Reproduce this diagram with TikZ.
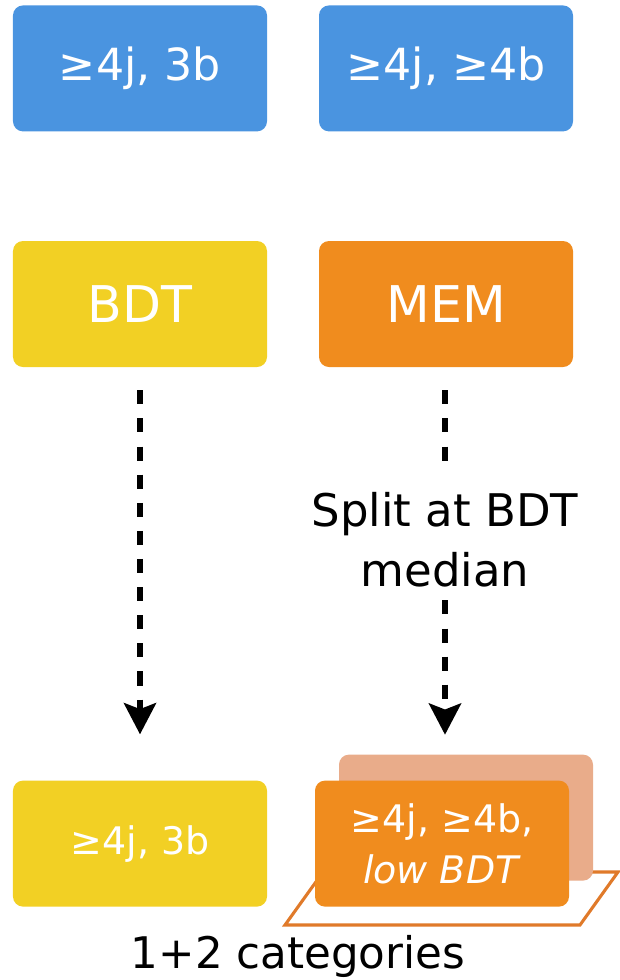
\documentclass[tikz,border=0pt]{standalone}
\usepackage{fontspec}
\setmainfont{DejaVu Sans}
\usetikzlibrary{positioning, arrows.meta}
\definecolor{CatBlue}{HTML}{4A94E0}
\definecolor{CatYellow}{HTML}{F2D024}
\definecolor{CatOrange}{HTML}{F08C1E}
\definecolor{CatSalmon}{HTML}{E9AC8A}
\definecolor{CatEdge}{HTML}{E07A2A}
\tikzset{
  catbox/.style={rounded corners=0.25cm, minimum width=6.35cm, minimum height=3.15cm, align=center, text=white, inner sep=0pt},
  dashline/.style={line width=4pt, dash pattern=on 10pt off 10pt},
  flow/.style={dashline, -{Stealth[length=0.78cm, width=0.8cm, inset=0.15cm]}},
}

\begin{document}
\begin{tikzpicture}
            \useasboundingbox (0,0) rectangle (15.5,-24.5);
            % Input categories
            \node[catbox, fill=CatBlue, font=\fontsize{31.5}{37}\selectfont] (threeb) at (3.5,-1.71) {≥4j, 3b};
            \node[catbox, fill=CatBlue, font=\fontsize{31.5}{37}\selectfont] (fourb) at (11.15,-1.71) {≥4j, ≥4b};
            
            % Discriminants
            \node[catbox, fill=CatYellow, font=\fontsize{36}{43}\selectfont] (bdt) at (3.5,-7.6) {BDT};
            \node[catbox, fill=CatOrange, font=\fontsize{36}{43}\selectfont] (mem) at (11.15,-7.6) {MEM};
            
            % Output categories
            \draw[CatEdge, line width=2.2pt, fill=white] (7.125,-23.125) -- (14.5,-23.125) -- (15.45,-21.8) -- (8.075,-21.8) -- cycle;
            \node[catbox, fill=CatSalmon] (memhigh) at (11.65,-20.44) {};
            \node[catbox, fill=CatYellow, font=\fontsize{27}{36}\selectfont] (outbdt) at (3.5,-21.09) {≥4j, 3b};
            \node[catbox, fill=CatOrange, font=\fontsize{27}{36}\selectfont] (outmem) at (11.05,-21.09) {≥4j, ≥4b,\\\textit{low BDT}};
            \node[font=\fontsize{31}{37}\selectfont] (count) at (7.45,-23.9) {1+2 categories};
            
            % Arrows
            \node[align=center, font=\fontsize{32}{42.7}\selectfont] (split) at (11.125,-13.5) {Split at BDT\\median};
            \draw[flow] ([yshift=-0.575cm]bdt.south) -- ([yshift=1.15cm]outbdt.north);
            \draw[dashline, shorten <=0.575cm, shorten >=0.45cm] (mem.south -| split) -- (split.north);
            \draw[flow, shorten <=0.2cm, shorten >=1.14cm] (split.south) -- (split.south |- outmem.north);
        \end{tikzpicture}
\end{document}
